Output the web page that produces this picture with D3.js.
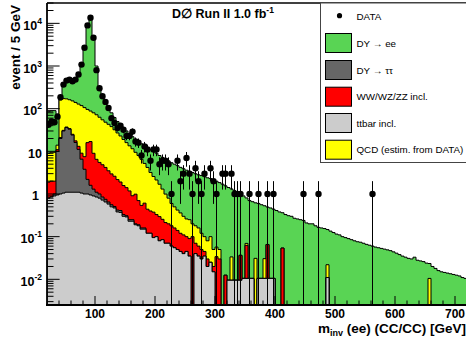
<!DOCTYPE html>
<html>
<head>
<meta charset="utf-8">
<script src="https://cdn.jsdelivr.net/npm/d3@7"></script>
<style>
  body { margin: 0; background: #fff; }
  svg { display: block; font-family: "Liberation Sans", Arial, Helvetica, sans-serif; }
</style>
</head>
<body>
<svg id="chart" width="466" height="344"></svg>
<script>
// m_inv histogram, 5 GeV bins from 20 to 720 GeV
const binStart = 20, binWidth = 5, nBins = 140;

const ttbar = [
  0.8,0.85,0.9,0.95,1.0,1.05,1.1,1.1,1.1,1.1,
  1.1,1.05,1.0,1.0,0.95,0.9,0.85,0.8,0.72,0.65,
  0.58,0.5,0.47,0.38,0.37,0.3,0.29,0.23,0.23,0.19,
  0.18,0.15,0.15,0.12,0.12,0.095,0.1,0.08,0.085,0.07,
  0.07,0.06,0.055,0.05,0.045,0.04,0.045,0.035,0,0.04,
  0.035,0.03,0.035,0.02,0.025,0.015,0,0,0,0,
  0.0095,0.0095,0.0095,0.0095,0.0095,0.0105,0.0105,0.0105,0.0105,0,
  0.0105,0.0105,0.0105,0.0105,0.0105,0.0105,0,0,0,0,
  0,0,0,0,0,0,0,0,0,0,
  0,0,0,0.011,0,0,0,0,0,0,
  0,0,0,0,0,0,0,0,0,0,
  0,0,0,0,0,0,0,0,0,0,
  0,0,0,0,0,0,0,0,0,0,
  0,0,0,0,0,0,0,0,0,0
];

const dytautau = [
  0,0,0.1,9,19,29,35,32,23,15,
  10,5.5,2.8,1.2,0.65,0.4,0.25,0.2,0.13,0.1,
  0.07,0.06,0.04,0.04,0.04,0.03,0.02,0.02,0.02,0.01,
  0.01,0.01,0.01,0,0,0,0,0,0,0,
  0,0,0,0,0,0,0,0,0,0,
  0,0,0,0,0,0,0,0,0,0,
  0,0,0,0,0,0,0,0,0,0,
  0,0,0,0,0,0,0,0,0,0,
  0,0,0,0,0,0,0,0,0,0,
  0,0,0,0,0,0,0,0,0,0,
  0,0,0,0,0,0,0,0,0,0,
  0,0,0,0,0,0,0,0,0,0,
  0,0,0,0,0,0,0,0,0,0,
  0,0,0,0,0,0,0,0,0,0
];

const diboson = [
  1.1,1.15,1.0,1.0,1.0,1.0,1.0,1.0,1.0,1.5,
  2.0,2.5,3.7,13.8,15.4,7.7,5.4,4.5,4.0,3.45,
  2.85,2.4,2.1,1.76,1.5,1.25,1.1,0.93,0.66,0.79,
  0.51,0.38,0.45,0.32,0.28,0.28,0.23,0.215,0.17,0.145,
  0.13,0.12,0.105,0.09,0.075,0.07,0.055,0.055,0.1,0.03,
  0.025,0.02,0.01,0.01,0,0.005,0.034,0.03,0,0.0125,
  0,0,0,0,0.027,0,0.052,0,0,0,
  0,0,0,0.055,0,0,0,0,0.054,0,
  0,0,0,0,0,0,0,0,0,0,
  0,0,0,0,0,0,0,0,0,0,
  0,0,0,0,0,0,0,0,0,0,
  0,0,0,0,0,0,0,0,0,0,
  0,0,0,0,0,0,0,0,0,0,
  0,0,0,0,0,0,0,0,0,0
];

const qcd = [
  7.1,7.5,7.5,3,139,141,133,128,127,122.5,
  115,109,98.5,80,71,71,65.5,57.5,50,44,
  39.5,35,29.4,24.8,21,17.4,14.6,12.3,10.6,8.5,
  7.3,5.95,4.6,3.75,2.8,2.2,1.8,1.4,1.05,0.78,
  0.6,0.42,0.34,0.28,0.24,0.19,0.16,0.16,0.1,0.11,
  0.1,0.07,0.055,0.05,0.075,0.03,0.023,0.02,0,0,
  0,0.024,0,0,0,0,0.007,0,0,0.031,
  0,0,0.02,0,0,0,0,0,0,0,
  0,0,0,0,0,0,0,0,0,0,
  0,0,0,0.011,0,0,0,0,0,0,
  0,0,0,0,0,0,0,0,0,0,
  0,0,0,0,0,0,0,0,0,0,
  0,0,0,0,0,0,0,0.0105,0,0,
  0,0,0,0,0,0,0,0,0,0
];

const dyee = [
  76,78.5,80.5,61,35,228,300,318,318,350,
  512,1032,2794,9204,14412,4820,928,267,145,102,
  67,42,30,23,19,16,14,12.5,10.5,9.5,
  9,8.5,7.8,7.8,7.8,7.4,6.9,6.3,5.9,5.5,
  5.2,4.8,4.5,4.2,3.85,3.6,3.35,3.15,3.0,2.8,
  2.65,2.58,2.45,2.32,2.2,2.1,1.94,1.8,1.7,1.54,
  1.41,1.28,1.19,1.09,0.96,0.89,0.74,0.69,0.65,0.59,
  0.59,0.55,0.5,0.43,0.46,0.43,0.41,0.38,0.31,0.33,
  0.31,0.3,0.27,0.26,0.25,0.24,0.21,0.2,0.2,0.18,
  0.165,0.16,0.155,0.125,0.135,0.125,0.115,0.11,0.1,0.095,
  0.09,0.085,0.08,0.076,0.074,0.07,0.066,0.063,0.06,0.057,
  0.055,0.053,0.051,0.049,0.047,0.044,0.041,0.038,0.035,0.033,
  0.031,0.03,0.033,0.028,0.027,0.026,0.024,0.013,0.02,0.018,
  0.016,0.015,0.0145,0.014,0.0135,0.013,0.0125,0.012,0.011,0.0105
];

const dataCounts = [
  42,50,48,65,185,367,455,480,440,480,
  630,1080,2680,8950,13500,4600,800,300,195,144,
  104,60,46,35,40,32,23,23,29,17,
  16,8,13,11,6,11,11,5,6,6,
  5,1,0,6,2,3,7,3,1,4,
  2,1,3,0,4,2,1,0,3,3,
  0,3,1,1,1,0,0,1,0,0,
  1,0,0,1,0,1,0,0,0,0,
  0,0,0,0,0,1,0,0,0,0,
  1,0,0,0,0,0,0,0,0,0,
  0,0,0,0,0,0,0,0,1,0,
  0,0,0,0,0,0,0,0,0,0,
  0,0,0,0,0,0,0,0,0,0,
  0,0,0,0,0,0,0,0,0,0
];

const xTicks = [100, 200, 300, 400, 500, 600, 700];
const yDecades = [-2, -1, 0, 1, 2, 3, 4];

// stack order bottom -> top
const keys = ["ttbar", "dytautau", "diboson", "qcd", "dyee"];
const colors = { ttbar: "#cccccc", dytautau: "#666666", diboson: "#ff0000", qcd: "#ffff00", dyee: "#59d454" };
const legendItems = [
  { label: "DATA", key: null },
  { label: "DY \u2192 ee", key: "dyee" },
  { label: "DY \u2192 \u03c4\u03c4", key: "dytautau" },
  { label: "WW/WZ/ZZ incl.", key: "diboson" },
  { label: "ttbar incl.", key: "ttbar" },
  { label: "QCD (estim. from DATA)", key: "qcd" }
];

const X0 = 47, X1 = 467, Y0 = 3, Y1 = 305;
const svg = d3.select("#chart");

const x = d3.scaleLinear().domain([20, 720]).range([X0, X1]);
const y = d3.scaleLog().domain([0.0025, 30000]).range([Y1, Y0]).clamp(true);
const yv = v => (v > 1e-9 ? y(v) : Y1 + 2);

const edges = d3.range(nBins).map(i => binStart + binWidth * i);
const rows = edges.map((m, i) => ({
  m, ttbar: ttbar[i], dytautau: dytautau[i], diboson: diboson[i], qcd: qcd[i], dyee: dyee[i]
}));
const series = d3.stack().keys(keys)(rows);

svg.append("clipPath").attr("id", "plot")
  .append("rect").attr("x", X0).attr("y", Y0).attr("width", X1 - X0).attr("height", Y1 - Y0);
const g = svg.append("g").attr("clip-path", "url(#plot)");

const area = d3.area()
  .curve(d3.curveStepAfter)
  .x(d => x(d.m))
  .y0(Y1 + 2)
  .y1(d => yv(d.v));

// draw cumulative histograms from the top of the stack down
for (let k = keys.length - 1; k >= 0; k--) {
  const pts = series[k].map((s, i) => ({ m: edges[i], v: s[1] }));
  pts.push({ m: binStart + binWidth * nBins, v: series[k][nBins - 1][1] });
  g.append("path")
    .attr("d", area(pts))
    .attr("fill", colors[keys[k]])
    .attr("stroke", "#000")
    .attr("stroke-width", 1);
}

// data points with sqrt(N) error bars
const pts = dataCounts.map((n, i) => ({ m: edges[i] + binWidth / 2, n })).filter(d => d.n > 0);
g.selectAll("line.err").data(pts).join("line")
  .attr("class", "err")
  .attr("x1", d => x(d.m)).attr("x2", d => x(d.m))
  .attr("y1", d => yv(d.n - Math.sqrt(d.n)))
  .attr("y2", d => yv(d.n + Math.sqrt(d.n)))
  .attr("stroke", "#000").attr("stroke-width", 1);
g.selectAll("circle.pt").data(pts).join("circle")
  .attr("class", "pt")
  .attr("cx", d => x(d.m)).attr("cy", d => y(d.n))
  .attr("r", 3.2).attr("fill", "#000");

// frame
svg.append("line").attr("x1", X0).attr("x2", X1).attr("y1", Y0).attr("y2", Y0)
  .attr("stroke", "#000").attr("stroke-width", 1.3);

// y axis ticks (inward)
const yMinor = [];
for (let d = -3; d <= 4; d++) for (let k = 2; k <= 9; k++) {
  const v = k * Math.pow(10, d);
  if (v >= 0.0025 && v <= 30000) yMinor.push(v);
}
svg.selectAll("line.ymin").data(yMinor).join("line")
  .attr("x1", X0).attr("x2", X0 + 6.5)
  .attr("y1", d => y(d)).attr("y2", d => y(d))
  .attr("stroke", "#000").attr("stroke-width", 1);
svg.selectAll("line.ymaj").data(yDecades).join("line")
  .attr("x1", X0).attr("x2", X0 + 12.6)
  .attr("y1", d => y(Math.pow(10, d))).attr("y2", d => y(Math.pow(10, d)))
  .attr("stroke", "#000").attr("stroke-width", 1);

// x axis ticks (inward)
const xMinor = d3.range(40, 720, 20).filter(v => v % 100 !== 0);
svg.selectAll("line.xmin").data(xMinor).join("line")
  .attr("x1", d => x(d)).attr("x2", d => x(d))
  .attr("y1", Y1).attr("y2", Y1 - 4.5)
  .attr("stroke", "#000").attr("stroke-width", 1);
svg.selectAll("line.xmaj").data(xTicks).join("line")
  .attr("x1", d => x(d)).attr("x2", d => x(d))
  .attr("y1", Y1).attr("y2", Y1 - 9)
  .attr("stroke", "#000").attr("stroke-width", 1);

svg.append("line").attr("x1", X0).attr("x2", X0).attr("y1", Y0).attr("y2", Y1 + 1)
  .attr("stroke", "#000").attr("stroke-width", 1.8);
svg.append("line").attr("x1", X0 - 1).attr("x2", X1).attr("y1", Y1).attr("y2", Y1)
  .attr("stroke", "#000").attr("stroke-width", 2);

// y tick labels
yDecades.forEach(d => {
  const t = svg.append("text")
    .attr("x", d === 0 ? 39 : 42)
    .attr("y", y(Math.pow(10, d)) + 6.5)
    .attr("text-anchor", "end")
    .attr("font-size", 12.5).attr("font-weight", "bold");
  if (d === 0) t.text("1");
  else if (d === 1) t.text("10");
  else {
    t.append("tspan").text("10");
    t.append("tspan").attr("font-size", 8.5).attr("dy", -6).text(d);
  }
});

// x tick labels
svg.selectAll("text.xl").data(xTicks).join("text")
  .attr("x", d => x(d)).attr("y", 317.5)
  .attr("text-anchor", "middle")
  .attr("font-size", 12).attr("font-weight", "bold")
  .text(d => d);

// axis titles
const xt = svg.append("text").attr("x", 466).attr("y", 333)
  .attr("text-anchor", "end").attr("font-size", 13.5).attr("font-weight", "bold");
xt.append("tspan").text("m");
xt.append("tspan").attr("font-size", 9).attr("dy", 3).text("inv");
xt.append("tspan").attr("dy", -3).text(" (ee) (CC/CC) [GeV]");

svg.append("text")
  .attr("transform", "translate(20,5) rotate(-90)")
  .attr("text-anchor", "end").attr("font-size", 13.5).attr("font-weight", "bold")
  .text("event / 5 GeV");

// title
const tt = svg.append("text").attr("x", 172).attr("y", 18.3)
  .attr("font-size", 12.5).attr("font-weight", "bold");
tt.append("tspan").text("D\u2205 Run II 1.0 fb");
tt.append("tspan").attr("font-size", 8.5).attr("dy", -5.5).text("-1");

// legend
const lg = svg.append("g");
lg.append("rect").attr("x", 320.5).attr("y", 3).attr("width", 160).attr("height", 159.5)
  .attr("fill", "#fff").attr("stroke", "#444").attr("stroke-width", 1);
const rowY = [16.7, 43, 70, 96.7, 123, 149.7];
legendItems.forEach((it, i) => {
  const cy = rowY[i];
  if (it.key === null) {
    lg.append("circle").attr("cx", 339.5).attr("cy", cy - 1).attr("r", 2.6).attr("fill", "#000");
  } else {
    lg.append("rect").attr("x", 325.5).attr("y", cy - 9.5).attr("width", 26).attr("height", 19)
      .attr("fill", colors[it.key]).attr("stroke", "#000").attr("stroke-width", 1);
  }
  lg.append("text").attr("x", 356.5).attr("y", cy + 3.5)
    .attr("font-size", 9.8).text(it.label);
});
</script>
</body>
</html>
